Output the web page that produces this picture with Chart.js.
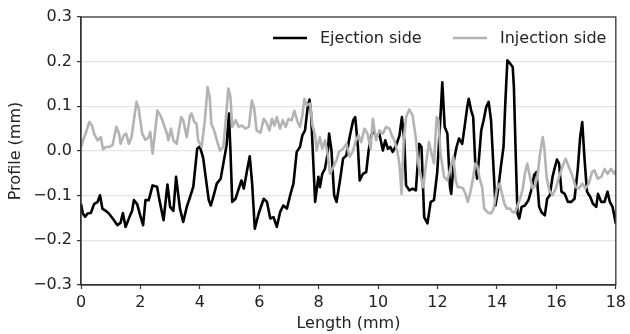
<!DOCTYPE html>
<html>
<head>
<meta charset="utf-8">
<script src="https://cdn.jsdelivr.net/npm/chart.js@4.4.0/dist/chart.umd.min.js"></script>
<style>
  html, body { margin: 0; padding: 0; background: #fff; }
  #wrap { width: 630px; height: 334px; }
</style>
</head>
<body>
<div id="wrap"><canvas id="chart" width="630" height="334"></canvas></div>
<script>
// data: length (mm) and profile (mm)
const ejectionX = [0, 0.06, 0.14, 0.22, 0.33, 0.44, 0.56, 0.64, 0.72, 0.83, 0.94, 1.11, 1.22, 1.33, 1.41, 1.5, 1.63, 1.72, 1.78, 1.89,
  2.0, 2.09, 2.17, 2.28, 2.41, 2.56, 2.64, 2.78, 2.91, 3.0, 3.11, 3.2, 3.33, 3.44, 3.56, 3.67, 3.78, 3.91, 4.0, 4.11,
  4.2, 4.3, 4.37, 4.48, 4.57, 4.7, 4.81, 4.9, 4.98, 5.03, 5.09, 5.2, 5.31, 5.4, 5.48, 5.59, 5.68, 5.76, 5.85, 5.98,
  6.15, 6.26, 6.37, 6.48, 6.59, 6.7, 6.81, 6.93, 7.04, 7.15, 7.26, 7.37, 7.45, 7.54, 7.63, 7.69, 7.74, 7.82, 7.88, 7.99,
  8.04, 8.12, 8.21, 8.3, 8.35, 8.43, 8.52, 8.6, 8.71, 8.82, 8.93, 9.04, 9.16, 9.23, 9.32, 9.38, 9.49, 9.6, 9.68, 9.77,
  9.85, 9.93, 10.04, 10.16, 10.24, 10.33, 10.41, 10.49, 10.61, 10.72, 10.8, 10.88, 10.94, 11.05, 11.16, 11.27, 11.38, 11.46, 11.55, 11.66,
  11.77, 11.88, 11.99, 12.08, 12.16, 12.24, 12.33, 12.42, 12.46, 12.55, 12.64, 12.72, 12.83, 12.91, 13.0, 13.05, 13.13, 13.2, 13.27, 13.33,
  13.39, 13.47, 13.55, 13.64, 13.72, 13.8, 13.87, 13.95, 14.05, 14.13, 14.22, 14.28, 14.35, 14.44, 14.53, 14.57, 14.63, 14.69, 14.75, 14.83,
  14.94, 15.06, 15.17, 15.25, 15.33, 15.42, 15.5, 15.61, 15.69, 15.78, 15.87, 15.95, 16.02, 16.09, 16.17, 16.28, 16.39, 16.5, 16.61, 16.72,
  16.8, 16.87, 16.95, 17.03, 17.14, 17.23, 17.34, 17.4, 17.51, 17.62, 17.72, 17.8, 17.89, 18.0];
const ejectionY = [-0.118, -0.14, -0.147, -0.14, -0.139, -0.119, -0.114, -0.099, -0.129, -0.134, -0.14, -0.155, -0.166, -0.161, -0.139, -0.17, -0.148, -0.134, -0.11, -0.119,
  -0.146, -0.166, -0.11, -0.11, -0.077, -0.08, -0.11, -0.155, -0.075, -0.125, -0.134, -0.058, -0.129, -0.159, -0.125, -0.103, -0.08, 0.005, 0.01, -0.015,
  -0.06, -0.11, -0.122, -0.096, -0.073, -0.062, -0.021, 0.013, 0.084, 0.0, -0.114, -0.107, -0.084, -0.066, -0.084, -0.043, -0.012, -0.073, -0.174, -0.14,
  -0.107, -0.114, -0.151, -0.148, -0.17, -0.137, -0.122, -0.129, -0.099, -0.073, -0.002, 0.009, 0.035, 0.046, 0.099, 0.115, 0.087, -0.028, -0.114, -0.058,
  -0.081, -0.051, -0.04, -0.006, 0.039, 0.001, -0.099, -0.114, -0.069, -0.017, -0.01, 0.031, 0.069, 0.076, 0.009, -0.066, -0.051, -0.047, 0.001, 0.035,
  0.046, 0.031, 0.039, 0.001, 0.024, 0.005, 0.009, -0.002, 0.013, 0.035, 0.076, 0.024, -0.077, -0.088, -0.084, -0.088, 0.016, 0.009, -0.148, -0.162,
  -0.114, -0.11, -0.047, 0.054, 0.154, 0.054, 0.039, -0.081, -0.096, -0.021, 0.009, 0.028, 0.016, 0.054, 0.099, 0.117, 0.091, 0.076, -0.028, -0.062,
  -0.021, 0.046, 0.069, 0.099, 0.11, 0.069, -0.021, -0.122, -0.081, -0.036, 0.009, 0.106, 0.203, 0.196, 0.188, 0.143, -0.006, -0.14, -0.151, -0.125,
  -0.122, -0.11, -0.084, -0.054, -0.047, -0.125, -0.137, -0.144, -0.107, -0.099, -0.058, -0.036, -0.019, -0.028, -0.091, -0.096, -0.114, -0.114, -0.107, -0.04,
  0.031, 0.065, -0.021, -0.091, -0.103, -0.118, -0.125, -0.096, -0.114, -0.114, -0.091, -0.114, -0.125, -0.163];

const injectionX = [0, 0.11, 0.19, 0.28, 0.37, 0.44, 0.56, 0.67, 0.74, 0.83, 0.94, 1.06, 1.19, 1.28, 1.33, 1.44, 1.52, 1.61, 1.7, 1.78,
  1.87, 1.94, 2.06, 2.17, 2.28, 2.33, 2.41, 2.5, 2.57, 2.67, 2.78, 2.89, 2.94, 3.03, 3.11, 3.22, 3.37, 3.44, 3.56, 3.67,
  3.72, 3.81, 3.89, 3.94, 4.06, 4.17, 4.26, 4.33, 4.39, 4.48, 4.59, 4.68, 4.79, 4.87, 4.96, 5.03, 5.09, 5.2, 5.31, 5.42,
  5.53, 5.65, 5.75, 5.83, 5.91, 6.04, 6.15, 6.26, 6.34, 6.43, 6.51, 6.59, 6.7, 6.79, 6.89, 6.98, 7.09, 7.18, 7.29, 7.37,
  7.45, 7.52, 7.6, 7.71, 7.79, 7.88, 7.93, 8.04, 8.12, 8.21, 8.3, 8.38, 8.49, 8.6, 8.68, 8.82, 8.93, 9.04, 9.16, 9.23,
  9.34, 9.43, 9.54, 9.64, 9.75, 9.82, 9.93, 10.04, 10.16, 10.27, 10.38, 10.46, 10.55, 10.66, 10.72, 10.79, 10.86, 10.94, 11.05, 11.16,
  11.27, 11.35, 11.44, 11.52, 11.6, 11.71, 11.8, 11.88, 11.97, 12.03, 12.1, 12.22, 12.33, 12.44, 12.53, 12.61, 12.68, 12.77, 12.86, 12.94,
  13.02, 13.11, 13.2, 13.27, 13.33, 13.42, 13.5, 13.57, 13.68, 13.8, 13.89, 14.0, 14.09, 14.17, 14.25, 14.33, 14.44, 14.53, 14.61, 14.69,
  14.78, 14.87, 14.94, 15.02, 15.11, 15.2, 15.28, 15.36, 15.45, 15.54, 15.59, 15.67, 15.76, 15.87, 15.98, 16.09, 16.2, 16.31, 16.42, 16.53,
  16.65, 16.76, 16.87, 16.98, 17.09, 17.2, 17.28, 17.39, 17.51, 17.62, 17.72, 17.84, 17.95, 18.0];
const injectionY = [0.009, 0.031, 0.046, 0.065, 0.057, 0.039, 0.024, 0.031, 0.003, 0.009, 0.009, 0.013, 0.054, 0.039, 0.016, 0.035, 0.039, 0.016, 0.031, 0.069,
  0.11, 0.095, 0.039, 0.025, 0.031, 0.043, -0.006, 0.046, 0.091, 0.08, 0.061, 0.039, 0.024, 0.05, 0.024, 0.016, 0.076, 0.069, 0.031, 0.08,
  0.084, 0.065, 0.061, 0.024, 0.009, 0.069, 0.143, 0.121, 0.06, 0.046, 0.02, 0.001, 0.009, 0.069, 0.14, 0.121, 0.054, 0.069, 0.054, 0.057,
  0.05, 0.054, 0.113, 0.095, 0.046, 0.041, 0.072, 0.061, 0.046, 0.072, 0.057, 0.076, 0.05, 0.069, 0.054, 0.072, 0.069, 0.09, 0.065, 0.054,
  0.08, 0.117, 0.102, 0.106, 0.057, 0.035, 0.001, 0.031, 0.005, 0.024, -0.006, -0.051, -0.036, -0.021, -0.002, 0.005, 0.016, -0.013, 0.001, 0.02,
  0.035, 0.02, 0.05, 0.039, 0.005, 0.072, 0.024, 0.046, 0.039, 0.054, 0.05, 0.035, 0.024, -0.006, -0.032, -0.096, 0.024, 0.076, 0.093, 0.08,
  0.028, -0.028, -0.058, -0.081, -0.036, 0.02, -0.006, -0.028, 0.076, 0.069, -0.006, -0.058, -0.066, -0.036, -0.013, -0.066, -0.081, -0.081, -0.084, -0.096,
  -0.114, -0.091, -0.058, -0.028, -0.032, -0.062, -0.081, -0.129, -0.137, -0.14, -0.129, -0.084, -0.073, -0.096, -0.118, -0.129, -0.129, -0.137, -0.137, -0.122,
  -0.107, -0.084, -0.051, -0.028, -0.058, -0.084, -0.077, -0.058, -0.006, 0.031, 0.009, -0.058, -0.088, -0.099, -0.084, -0.058, -0.036, -0.017, -0.036, -0.054,
  -0.081, -0.084, -0.073, -0.084, -0.073, -0.047, -0.043, -0.062, -0.058, -0.04, -0.051, -0.04, -0.051, -0.043];

const xTicks = ['0', '2', '4', '6', '8', '10', '12', '14', '16', '18'];
const yTicks = ['\u22120.3', '\u22120.2', '\u22120.1', '0.0', '0.1', '0.2', '0.3'];

const FONT = 'DejaVu Sans';
const AXIS_COLOR = '#333';

function toPoints(xs, ys) {
  return xs.map((x, i) => ({ x: x, y: ys[i] }));
}

// frame round the plot and legend inside upper right
const frameAndLegend = {
  id: 'frameAndLegend',
  afterDraw(chart) {
    const ctx = chart.ctx;
    const a = chart.chartArea;
    ctx.save();
    ctx.strokeStyle = AXIS_COLOR;
    ctx.lineWidth = 1.3;
    ctx.strokeRect(a.left, a.top, a.right - a.left, a.bottom - a.top);

    const ds = chart.data.datasets;
    const starts = [273, 453];
    const y = a.top + 21;
    ctx.font = '16px "' + FONT + '"';
    ctx.textBaseline = 'middle';
    ds.forEach((d, i) => {
      const x0 = starts[i];
      ctx.strokeStyle = d.borderColor;
      ctx.lineWidth = 2.6;
      ctx.beginPath();
      ctx.moveTo(x0, y);
      ctx.lineTo(x0 + 34, y);
      ctx.stroke();
      ctx.fillStyle = '#222';
      ctx.fillText(d.label, x0 + 47, y + 1);
    });
    ctx.restore();
  }
};

const ctx = document.getElementById('chart').getContext('2d');
new Chart(ctx, {
  type: 'line',
  data: {
    datasets: [
      {
        label: 'Ejection side',
        data: toPoints(ejectionX, ejectionY),
        borderColor: '#000000',
        borderWidth: 2.6,
        borderJoinStyle: 'round',
        order: 2
      },
      {
        label: 'Injection side',
        data: toPoints(injectionX, injectionY),
        borderColor: '#b3b3b3',
        borderWidth: 2.6,
        borderJoinStyle: 'round',
        order: 1
      }
    ]
  },
  options: {
    responsive: false,
    animation: false,
    devicePixelRatio: 1,
    layout: { padding: { left: 0, top: 17, right: 10, bottom: 0 } },
    elements: { point: { radius: 0 }, line: { tension: 0, fill: false } },
    plugins: { legend: { display: false }, tooltip: { enabled: false } },
    scales: {
      x: {
        type: 'linear',
        min: 0,
        max: 18,
        afterFit: (s) => { s.height = 49; },
        afterBuildTicks: (s) => { s.ticks = xTicks.map((t, i) => ({ value: i * 2 })); },
        grid: { drawOnChartArea: false, drawTicks: true, tickLength: 4, tickColor: AXIS_COLOR, tickWidth: 1.2 },
        border: { display: true, color: AXIS_COLOR, width: 1.3 },
        ticks: {
          color: '#222',
          font: { family: FONT, size: 16 },
          padding: 4,
          maxRotation: 0,
          callback: (v, i) => xTicks[i]
        },
        title: {
          display: true,
          text: 'Length (mm)',
          color: '#222',
          font: { family: FONT, size: 16 },
          padding: { top: 0, bottom: 1 }
        }
      },
      y: {
        type: 'linear',
        min: -0.3,
        max: 0.3,
        afterFit: (s) => { s.width = 81; },
        afterBuildTicks: (s) => { s.ticks = yTicks.map((t, i) => ({ value: -0.3 + i * 0.1 })); },
        grid: {
          color: (c) => (c.index === 0 || c.index === yTicks.length - 1) ? 'rgba(0,0,0,0)' : '#e4e4e4',
          lineWidth: 1.2,
          drawTicks: true,
          tickLength: 4,
          tickColor: AXIS_COLOR,
          tickWidth: 1.2
        },
        border: { display: true, color: AXIS_COLOR, width: 1.3 },
        ticks: {
          color: '#222',
          font: { family: FONT, size: 16 },
          padding: 5,
          callback: (v, i) => yTicks[i]
        },
        title: {
          display: true,
          text: 'Profile (mm)',
          color: '#222',
          font: { family: FONT, size: 16 },
          padding: { top: 6, bottom: 0 }
        }
      }
    }
  },
  plugins: [frameAndLegend]
});
</script>
</body>
</html>
